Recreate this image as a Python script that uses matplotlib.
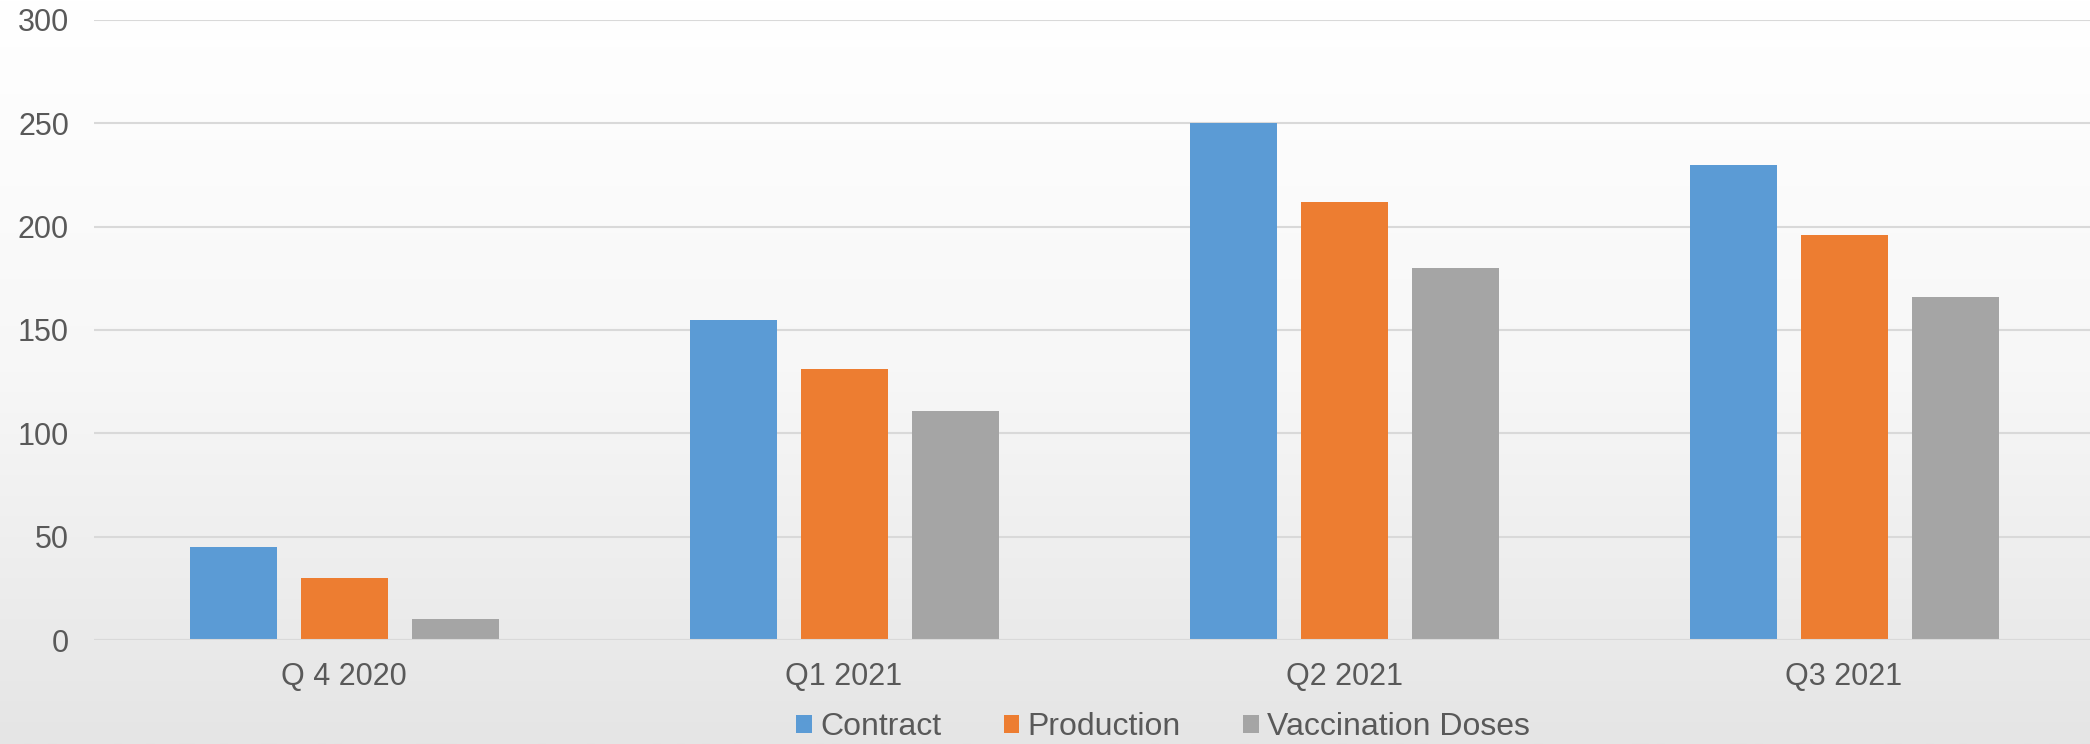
import numpy as np
import matplotlib

matplotlib.use("Agg")
import matplotlib.pyplot as plt
from matplotlib.patches import Patch

quarters = ["Q 4 2020", "Q1 2021", "Q2 2021", "Q3 2021"]
contract = [45, 155, 250, 230]
production = [30, 131, 212, 196]
vaccination_doses = [10, 111, 180, 166]
series_names = ["Contract", "Production", "Vaccination Doses"]
y_ticks = [0, 50, 100, 150, 200, 250, 300]

COLORS = ["#5b9bd5", "#ed7d31", "#a5a5a5"]
TEXT = "#595959"
GRID = "#d9d9d9"

plt.rcParams["font.family"] = ["Liberation Sans", "DejaVu Sans"]

W, H = 2090, 744
fig = plt.figure(figsize=(W / 100, H / 100), dpi=100)

# background gradient, white at top to light grey at bottom
bg = fig.add_axes([0, 0, 1, 1], zorder=-10)
grad = np.linspace(1.0, 0.0, 256).reshape(-1, 1)
bg.imshow(grad, aspect="auto", cmap=matplotlib.colors.LinearSegmentedColormap.from_list(
    "bg", ["#e5e5e5", "#f7f7f7", "#ffffff"]), extent=[0, 1, 0, 1], vmin=0, vmax=1)
bg.axis("off")

ax = fig.add_axes([94 / W, 1 - 640 / H, 2000 / W, 620 / H])
ax.patch.set_alpha(0)

x = np.arange(len(quarters))
width = 0.174
step = 0.222
for i, (vals, color) in enumerate(zip([contract, production, vaccination_doses], COLORS)):
    ax.bar(x + (i - 1) * step, vals, width=width, color=color, zorder=3)

ax.set_xlim(-0.5, len(quarters) - 0.5)
ax.set_ylim(0, 300)
ax.set_yticks(y_ticks)
ax.set_xticks(x)
ax.set_xticklabels(quarters)
ax.grid(axis="y", color=GRID, linewidth=1.5, zorder=0)
for s in ax.spines.values():
    s.set_visible(False)
ax.axhline(0, color=GRID, linewidth=1.5, zorder=4)
ax.tick_params(axis="y", length=0, pad=18, labelsize=22, labelcolor=TEXT)
ax.tick_params(axis="x", length=0, pad=16, labelsize=22, labelcolor=TEXT)

handles = [Patch(facecolor=c, edgecolor="none") for c in COLORS]
fig.legend(handles, series_names, loc="center", bbox_to_anchor=(1163 / W, 1 - 727 / H),
           ncol=3, frameon=False, fontsize=23, labelcolor=TEXT,
           handlelength=0.5, handleheight=0.5, handletextpad=0.25, columnspacing=1.95,
           borderpad=0, borderaxespad=0)

fig.savefig("out.png", dpi=100)
